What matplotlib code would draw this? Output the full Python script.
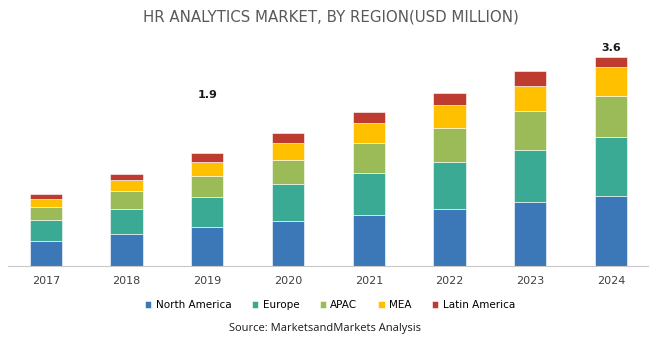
import matplotlib.pyplot as plt
import numpy as np

# market size by region
years = ['2017', '2018', '2019', '2020', '2021', '2022', '2023', '2024']
north_america = [0.44, 0.55, 0.67, 0.78, 0.88, 0.99, 1.11, 1.20]
europe = [0.36, 0.44, 0.52, 0.63, 0.73, 0.80, 0.90, 1.02]
apac = [0.21, 0.31, 0.36, 0.42, 0.51, 0.60, 0.67, 0.72]
mea = [0.15, 0.19, 0.25, 0.30, 0.35, 0.38, 0.43, 0.50]
latin_america = [0.08, 0.10, 0.15, 0.17, 0.19, 0.22, 0.25, 0.16]

regions = ['North America', 'Europe', 'APAC', 'MEA', 'Latin America']
colors = ['#3C78B8', '#3AAA94', '#9BBB59', '#FFC000', '#BE3B30']

# labels shown above two bars: (year index, text, offset in points)
callouts = [(2, '1.9', 42), (7, '3.6', 7)]

fig = plt.figure(figsize=(6.5, 3.5), dpi=100)
ax = fig.add_axes([8/650, 84/350, 640/650, 226/350])

x = np.arange(len(years))
bottom = np.zeros(len(years))
for name, vals, c in zip(regions, [north_america, europe, apac, mea, latin_america], colors):
    ax.bar(x, vals, width=0.4, bottom=bottom, color=c, label=name,
           edgecolor='white', linewidth=0.4)
    bottom += np.array(vals)

for i, txt, off in callouts:
    ax.annotate(txt, (x[i], bottom[i]), xytext=(0, off), textcoords='offset points',
                ha='center', va='center', fontsize=8, fontweight='bold', color='#1a1a1a')

ax.set_xlim(-0.47, 7.46)
ax.set_ylim(0, 3.9)
ax.set_xticks(x)
ax.set_xticklabels(years, fontsize=8, color='#404040')
ax.tick_params(axis='x', length=0, pad=7)
ax.set_yticks([])
for s in ['top', 'right', 'left']:
    ax.spines[s].set_visible(False)
ax.spines['bottom'].set_color('#c8c8c8')

fig.text(0.5 + 6/650, 1 - 17/350, 'HR ANALYTICS MARKET, BY REGION(USD MILLION)',
         ha='center', va='center', fontsize=10.8, color='#595959')

fig.legend(loc='center', bbox_to_anchor=(330/650, 1 - 305/350), ncol=5, frameon=False,
           handlelength=0.6, handleheight=0.6, handletextpad=0.4,
           columnspacing=2.0, prop={'size': 7.5})

fig.text(0.5, 1 - 328/350, 'Source: MarketsandMarkets Analysis', ha='center', va='center',
         fontsize=8, color='#1a1a1a', family=['Open Sans', 'DejaVu Sans'])

fig.savefig('out.png', dpi=100, facecolor='white')
